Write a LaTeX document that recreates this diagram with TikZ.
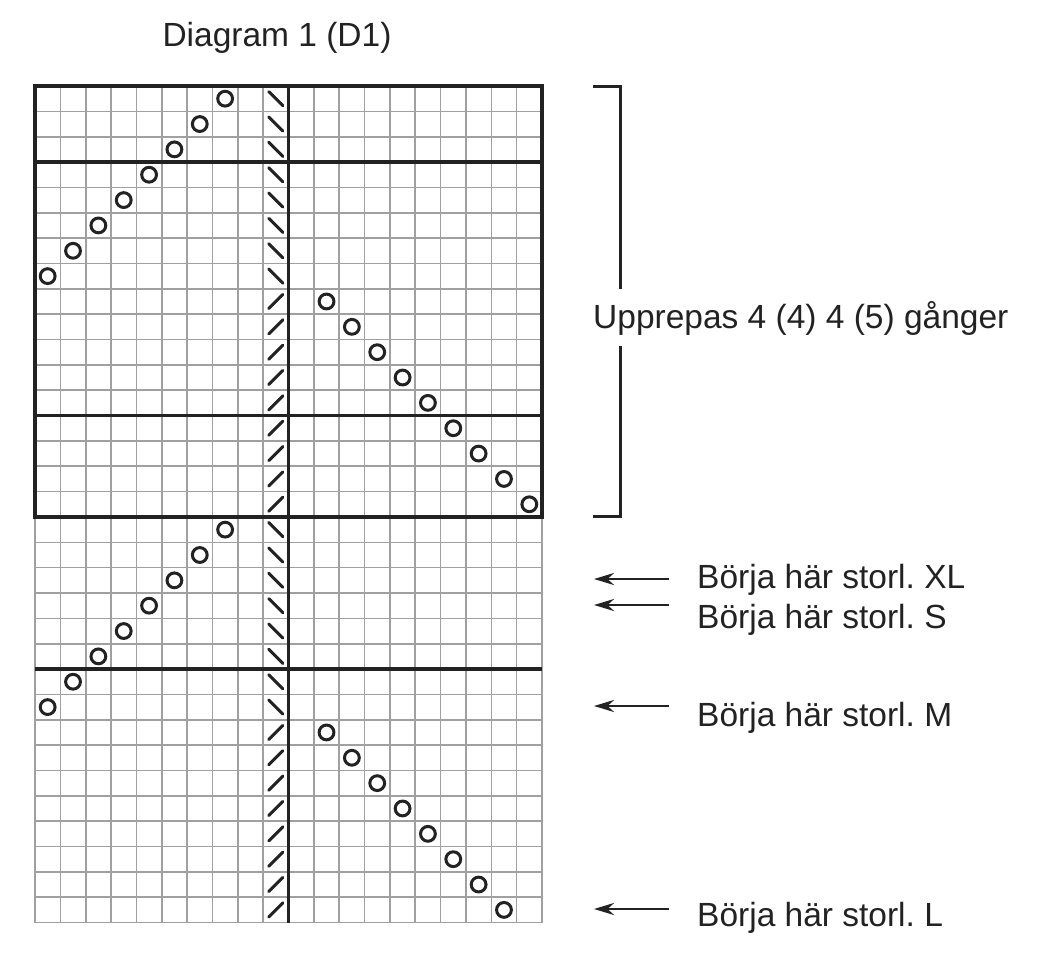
\documentclass[tikz,border=0pt]{standalone}
\usepackage{fontspec}
\setmainfont{Liberation Sans}
\usetikzlibrary{arrows.meta}
\definecolor{gridgrey}{HTML}{A0A0A0}
\definecolor{ink}{HTML}{222222}
\frenchspacing
\tikzset{
  thin grid/.style={draw=gridgrey, line width=1.6pt},
  heavy/.style={draw=ink, line width=3.2pt},
  yo/.style={draw=ink, line width=3pt},
  dec/.style={draw=ink, line width=3pt, line cap=round},
  lbl/.style={font=\fontsize{33.5}{40}\selectfont, text=ink, inner sep=0pt},
  brk/.style={draw=ink, line width=3pt},
  arr/.style={draw=ink, line width=2.8pt, -{Stealth[length=20pt,width=12pt]}},
}
\begin{document}
\begin{tikzpicture}[x=1pt,y=-1pt]
\useasboundingbox[fill=white] (0,0) rectangle (1058,962);
% title
\node[lbl, anchor=base] (title) at (277,46) {Diagram 1 (D1)};
% chart
\begin{scope}[shift={(35,86)}, x=25.35pt, y=-25.35pt]
  % thin grid
  \foreach \i in {0,...,20} \draw[thin grid] (\i,0) -- (\i,33);
  \foreach \j in {0,...,33} \draw[thin grid] (0,\j) -- (20,\j);
  % heavy lines
  \draw[heavy] (0,3) -- (20,3);
  \draw[heavy] (0,13) -- (20,13);
  \draw[heavy] (0,23) -- (20,23);
  \draw[heavy] (10,0) -- (10,33);
  \draw[heavy] (0,0) rectangle (20,17);
  % yarn overs
  \foreach \r in {1,...,8} \draw[yo] ({9-\r-0.5},{\r-0.5}) circle[radius=7.4pt];
  \foreach \r in {9,...,17} \draw[yo] ({\r+3-0.5},{\r-0.5}) circle[radius=7.4pt];
  \foreach \r in {18,...,25} \draw[yo] ({26-\r-0.5},{\r-0.5}) circle[radius=7.4pt];
  \foreach \r in {26,...,33} \draw[yo] ({\r-14-0.5},{\r-0.5}) circle[radius=7.4pt];
  % decreases
  \foreach \r in {1,...,8,18,19,20,21,22,23,24,25}
    \draw[dec] (9.22,{\r-0.78}) -- (9.78,{\r-0.22});
  \foreach \r in {9,...,17,26,27,28,29,30,31,32,33}
    \draw[dec] (9.22,{\r-0.22}) -- (9.78,{\r-0.78});
\end{scope}
% bracket
\node[lbl, anchor=base west] (rep) at (593,328) {Upprepas 4 (4) 4 (5) gånger};
\draw[brk] (593,86) -- (620,86) -- (620,289);
\draw[brk] (620,346) -- (620,516) -- (593,516);
% start labels
\node[lbl, anchor=base west] (xl) at (697,588) {Börja här storl. XL};
\node[lbl, anchor=base west] (s) at (697,628) {Börja här storl. S};
\node[lbl, anchor=base west] (m) at (697,726) {Börja här storl. M};
\node[lbl, anchor=base west] (l) at (697,926) {Börja här storl. L};
\coordinate (xlA) at (669,579); \coordinate (xlB) at (594,579);
\coordinate (sA) at (669,605);  \coordinate (sB) at (594,605);
\coordinate (mA) at (669,706);  \coordinate (mB) at (594,706);
\coordinate (lA) at (669,909);  \coordinate (lB) at (594,909);
\draw[arr] (xlA) -- (xlB);
\draw[arr] (sA) -- (sB);
\draw[arr] (mA) -- (mB);
\draw[arr] (lA) -- (lB);
\end{tikzpicture}
\end{document}
